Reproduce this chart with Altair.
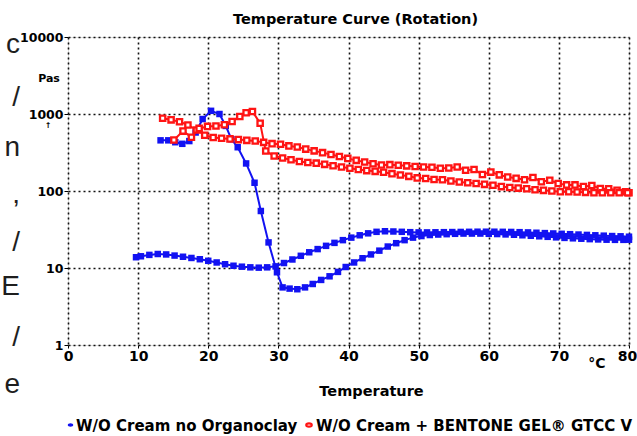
import altair as alt
import pandas as pd

# --- W/O Cream no Organoclay: heating run, then cooling run (°C, Pa·s) ---
blue_heat_t = [13.2, 14.3, 15.3, 16.3, 17.3, 18.2, 19.2, 20.4, 21.6, 22.5, 23.3, 24.2,
               25.4, 26.6, 27.5, 28.6, 29.8, 30.6, 31.6, 32.7, 33.8, 34.9, 36.1, 37.3,
               38.5, 39.6, 40.8, 42.0, 43.2, 44.4, 45.6, 46.8, 48.0, 49.2, 50.4, 51.6,
               52.8, 54.0, 55.2, 56.4, 57.6, 58.8, 60.0, 61.2, 62.4, 63.6, 64.8, 66.0,
               67.2, 68.4, 69.6, 70.8, 72.0, 73.2, 74.4, 75.6, 76.8, 78.0, 79.2, 80.0]
blue_heat_v = [455, 455, 430, 410, 445, 575, 860, 1100, 1000, 700, 470, 370,
               228, 128, 55, 21.5, 8.8, 5.6, 5.4, 5.3, 5.6, 6.2, 7.0, 7.8,
               8.9, 10.3, 11.8, 13.4, 15.0, 16.8, 19.0, 21.0, 23.0, 24.8, 26.0, 26.8,
               27.2, 27.5, 27.8, 28.0, 28.0, 28.0, 27.8, 27.6, 27.3, 27.0, 26.6, 26.2,
               25.8, 25.4, 25.0, 24.6, 24.3, 24.0, 23.7, 23.5, 23.3, 23.2, 23.2, 23.3]
blue_cool_t = [80.0, 78.8, 77.6, 76.4, 75.2, 74.0, 72.8, 71.6, 70.4, 69.2, 68.0, 66.8,
               65.6, 64.4, 63.2, 62.0, 60.8, 59.6, 58.4, 57.2, 56.0, 54.8, 53.6, 52.4,
               51.2, 50.0, 48.8, 47.6, 46.4, 45.2, 44.0, 42.8, 41.6, 40.4, 39.2, 38.0,
               36.8, 35.6, 34.4, 33.2, 32.0, 30.8, 29.6, 28.4, 27.2, 26.0, 24.8, 23.6,
               22.4, 21.2, 20.0, 18.8, 17.6, 16.4, 15.2, 14.0, 12.8, 11.6, 10.4, 9.7]
blue_cool_v = [25.5, 25.8, 26.0, 26.3, 26.6, 26.9, 27.2, 27.5, 27.8, 28.1, 28.4, 28.7,
               29.0, 29.2, 29.4, 29.5, 29.6, 29.6, 29.6, 29.5, 29.4, 29.3, 29.2, 29.1,
               29.0, 29.0, 29.2, 29.5, 29.8, 30.0, 29.5, 28.2, 26.6, 24.8, 23.0, 21.2,
               19.4, 17.6, 16.0, 14.4, 12.9, 11.6, 10.5, 10.2, 10.1, 10.2, 10.4, 10.7,
               11.2, 11.8, 12.4, 13.0, 13.5, 14.0, 14.5, 15.0, 15.2, 14.8, 14.2, 13.8]

# --- W/O Cream + BENTONE GEL GTCC V: upper run and lower run (°C, Pa·s) ---
red_up_t = [13.5, 14.7, 15.9, 17.1, 18.3, 19.5, 20.7, 21.9, 23.1, 24.3, 25.5, 26.7,
            27.9, 29.1, 30.3, 31.5, 32.7, 33.9, 35.1, 36.3, 37.5, 38.7, 39.9, 41.1,
            42.3, 43.5, 44.7, 45.9, 47.1, 48.3, 49.5, 50.7, 51.9, 53.1, 54.3, 55.5,
            56.7, 57.9, 59.1, 60.3, 61.5, 62.7, 63.9, 65.1, 66.3, 67.5, 68.7, 69.9,
            71.1, 72.3, 73.5, 74.7, 75.9, 77.1, 78.3, 79.5, 80.0]
red_up_v = [880, 840, 795, 720, 620, 530, 495, 485, 475, 465, 455, 445,
            428, 412, 405, 385, 372, 350, 332, 315, 298, 280, 265, 250,
            238, 226, 218, 220, 216, 212, 208, 205, 203, 197, 199, 205,
            186, 190, 164, 176, 162, 152, 146, 140, 150, 132, 138, 125,
            120, 120, 114, 118, 108, 107, 102, 98, 95]
red_low_t = [79.8, 78.6, 77.4, 76.2, 75.0, 73.8, 72.6, 71.4, 70.2, 69.0, 67.8, 66.6,
             65.4, 64.2, 63.0, 61.8, 60.6, 59.4, 58.2, 57.0, 55.8, 54.6, 53.4, 52.2,
             51.0, 49.8, 48.6, 47.4, 46.2, 45.0, 43.8, 42.6, 41.4, 40.2, 39.0, 37.8,
             36.6, 35.4, 34.2, 33.0, 31.8, 30.6, 29.4, 28.2, 27.4, 26.3, 25.4, 24.5,
             23.4, 22.3, 21.1, 19.9, 18.7, 17.6, 16.4, 15.1]
red_low_v = [95, 95, 95, 95, 95, 96, 97, 98, 98, 100, 102, 104,
             107, 109, 111, 114, 119, 122, 125, 128, 131, 135, 140, 141,
             145, 148, 155, 161, 168, 175, 180, 184, 190, 197, 205, 213,
             222, 230, 235, 242, 255, 268, 285, 330, 760, 1080, 1040, 930,
             800, 725, 700, 690, 650, 500, 600, 459]

SERIES_BLUE = "W/O Cream no Organoclay"
SERIES_RED = "W/O Cream + BENTONE GEL® GTCC V"

rows = []
for name, temps, vals in [
    (SERIES_BLUE, blue_heat_t + blue_cool_t, blue_heat_v + blue_cool_v),
    (SERIES_RED, red_up_t + red_low_t, red_up_v + red_low_v),
]:
    for i, (t, v) in enumerate(zip(temps, vals)):
        rows.append({"series": name, "temp": t, "visc": v, "idx": i})
df = pd.DataFrame(rows)

BLUE = "#1212f2"
RED = "#ff1414"
FONT = "DejaVu Sans"

x_enc = alt.X(
    "temp:Q",
    scale=alt.Scale(domain=[0, 80], nice=False, zero=False),
    axis=alt.Axis(values=list(range(0, 81, 10)), format="d", title=None,
                  labelFont=FONT, labelFontWeight="bold", labelFontSize=14,
                  labelColor="#000", labelPadding=1, tickSize=3, tickColor="#000",
                  labelOffset={"condition": {"test": "datum.value == 80", "value": -2},
                               "value": 0},
                  domain=False, grid=True, gridColor="#111", gridDash=[2, 3],
                  gridWidth=1.6, labelFlush=False),
)
y_enc = alt.Y(
    "visc:Q",
    scale=alt.Scale(type="log", domain=[1, 10000], nice=False),
    axis=alt.Axis(values=[1, 10, 100, 1000, 10000], format="d", title=None,
                  labelFont=FONT, labelFontWeight="bold", labelFontSize=12.5,
                  labelColor="#000", labelPadding=1, tickSize=4, tickColor="#000",
                  domain=False, grid=True, gridColor="#111", gridDash=[2, 3],
                  gridWidth=1.6, labelFlush=False),
)

base = alt.Chart(df)
blue = base.transform_filter(alt.datum.series == SERIES_BLUE)
red = base.transform_filter(alt.datum.series == SERIES_RED)

blue_line = blue.mark_line(color=BLUE, strokeWidth=2).encode(x=x_enc, y=y_enc, order="idx:Q")
blue_pts = blue.mark_point(shape="square", filled=True, color=BLUE, size=42, opacity=1).encode(
    x="temp:Q", y="visc:Q")
red_line = red.mark_line(color=RED, strokeWidth=2).encode(x="temp:Q", y="visc:Q", order="idx:Q")
red_pts = red.mark_point(shape="square", filled=True, fill="#ffffff", stroke=RED,
                         strokeWidth=2.3, size=28, opacity=1).encode(x="temp:Q", y="visc:Q")

one = pd.DataFrame({"k": [0]})


def label(text, x, y, size, weight="bold", align="center", font=FONT, color="#000",
          baseline="middle"):
    return alt.Chart(one).mark_text(
        text=text, font=font, fontSize=size, fontWeight=weight, align=align,
        baseline=baseline, color=color,
    ).encode(x=alt.value(x), y=alt.value(y))


ellipse = "M -1 0 A 1 0.6 0 1 0 1 0 A 1 0.6 0 1 0 -1 0 Z"

annotations = [
    label("Temperature Curve (Rotation)", 287.5, -17, 14.5),
    label("Temperature", 303.5, 355, 14.5),
    label("°C", 529, 327, 14),
    label("Pas", -19, 42, 11),
    label("↑", -20, 89, 8),
    label(SERIES_BLUE, 8, 389, 15, align="left"),
    label(SERIES_RED, 248, 389, 15, align="left"),
    alt.Chart(one).mark_point(shape=ellipse, filled=True, color=BLUE, size=30, opacity=1)
    .encode(x=alt.value(2.5), y=alt.value(388)),
    alt.Chart(one).mark_point(shape=ellipse, filled=True, fill="#ffffff", stroke=RED,
                              strokeWidth=2.2, size=30, opacity=1)
    .encode(x=alt.value(241), y=alt.value(388)),
]

# fragments of neighbouring body text along the left edge
for ch, yy in [("c", 8), ("/", 61), ("n", 111), (",", 158), ("/", 206), ("E", 250),
               ("/", 301), ("e", 348)]:
    annotations.append(label(ch, -48, yy, 28, weight="normal", align="right",
                             font="Liberation Sans", color="#1e1e1e"))

chart = alt.layer(blue_line, blue_pts, red_line, red_pts, *annotations).properties(
    width=561,
    height=308,
    autosize=alt.AutoSizeParams(type="none"),
    padding={"left": 68, "top": 37, "right": 8, "bottom": 91},
).configure_view(
    stroke="#000", strokeWidth=2
).configure(background="#ffffff")

chart.save("out.html", embed_options={"renderer": "svg", "actions": False})
